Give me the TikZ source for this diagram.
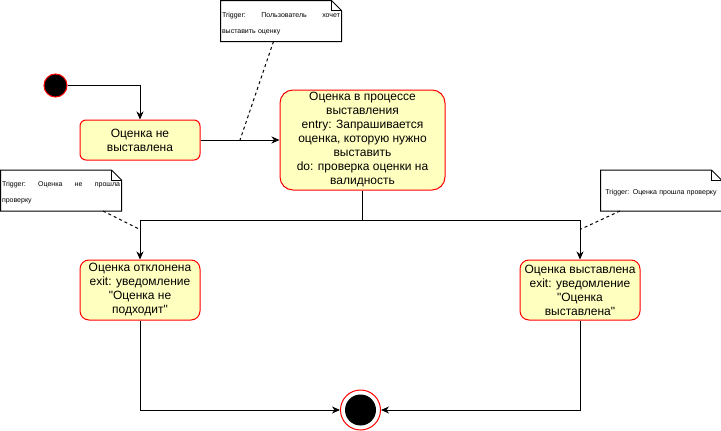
\documentclass[tikz,border=0pt]{standalone}
\usepackage{fontspec}
\setmainfont{Liberation Sans}[Ligatures=TeXOff]
\usetikzlibrary{arrows.meta,calc}
\definecolor{statefill}{HTML}{FFFFC0}
\definecolor{statered}{HTML}{FF0000}
% note outline with a folded top-right corner around a named node
\newcommand\foldednote[1]{%
  \draw[notepen] (#1.south west) -- (#1.north west) -- ([xshift=-10pt]#1.north east)
    -- ([yshift=-10pt]#1.north east) -- (#1.south east) -- cycle;
  \draw[notepen] ([xshift=-10pt]#1.north east) -- ([xshift=-10pt,yshift=-10pt]#1.north east)
    -- ([yshift=-10pt]#1.north east);}
\begin{document}
\begin{tikzpicture}[x=1pt,y=-1pt,line width=1pt,
  state/.style={draw=statered,fill=statefill,align=center,
    font=\fontsize{12}{14}\selectfont,inner sep=0pt},
  flow/.style={-{Stealth[length=8pt,width=7pt,inset=2.5pt]}},
  notepen/.style={draw=black,line width=1pt},
  notetext/.style={font=\fontsize{7}{16}\selectfont,inner xsep=1pt,inner ysep=0pt,
    minimum height=40pt,text width=118pt,align=left,anchor=north west},
  hint/.style={dash pattern=on 3pt off 3pt}]
\useasboundingbox (0,0) rectangle (721,431);

% states
\node[circle,draw=statered,fill=black,minimum size=23pt,inner sep=0pt] (init) at (55.5,85.5) {};
\node[state,minimum width=120pt,minimum height=40pt,rounded corners=6pt] (s1) at (140,140)
  {Оценка не\\выставлена};
\node[state,minimum width=165pt,minimum height=100pt,rounded corners=13pt] (s2) at (362.5,140)
  {Оценка в процессе\\выставления\\entry: Запрашивается\\оценка, которую нужно\\выставить\\do: проверка оценки на\\валидность};
\node[state,minimum width=120pt,minimum height=60pt,rounded corners=9pt] (s3) at (140,290)
  {Оценка отклонена\\exit: уведомление\\"Оценка не\\подходит"};
\node[state,minimum width=120pt,minimum height=60pt,rounded corners=9pt] (s4) at (580,290)
  {Оценка выставлена\\exit: уведомление\\"Оценка\\выставлена"};
\node[circle,draw=statered,fill=white,minimum size=40pt,inner sep=0pt] (fin) at (360.5,410) {};
\node[circle,fill=black,minimum size=31pt,inner sep=0pt] (finc) at (fin.center) {};

% transitions
\draw[flow] (init.east) -| (s1.north);
\draw[flow] (s1.east) -- (s2.west);
\coordinate (split) at ($(s2.south)+(0,30)$);
\draw (s2.south) -- (split);
\draw[flow] (split) -| (s3.north);
\draw[flow] (split) -| (s4.north);
\draw[flow] (s3.south) |- (fin.west);
\draw[flow] (s4.south) |- (fin.east);

% trigger notes
\node[notetext] (n1) at (220.5,0.5)
  {\rule{0pt}{10pt}Trigger:\hfill Пользователь\hfill хочет\\выставить оценку};
\node[notetext] (n2) at (0.5,170)
  {\rule{0pt}{9pt}Trigger:\hfill Оценка\hfill не\hfill прошла\\проверку};
\node[notetext,align=center] (n3) at (600.5,170)
  {\rule{0pt}{10pt}Trigger: Оценка прошла проверку};
\foldednote{n1}
\foldednote{n2}
\foldednote{n3}

\coordinate (e1) at ($(s1.east)!0.5!(s2.west)$);
\coordinate (e2) at ($(s3.north)+(0,-30)$);
\coordinate (e3) at ($(s4.north)+(0,-30)$);
\draw[hint] ([xshift=-7.5pt]n1.south) -- (e1);
\draw[hint] ([xshift=-18.5pt]n2.south east) -- (e2);
\draw[hint] ([xshift=19.5pt]n3.south west) -- (e3);
\end{tikzpicture}
\end{document}
